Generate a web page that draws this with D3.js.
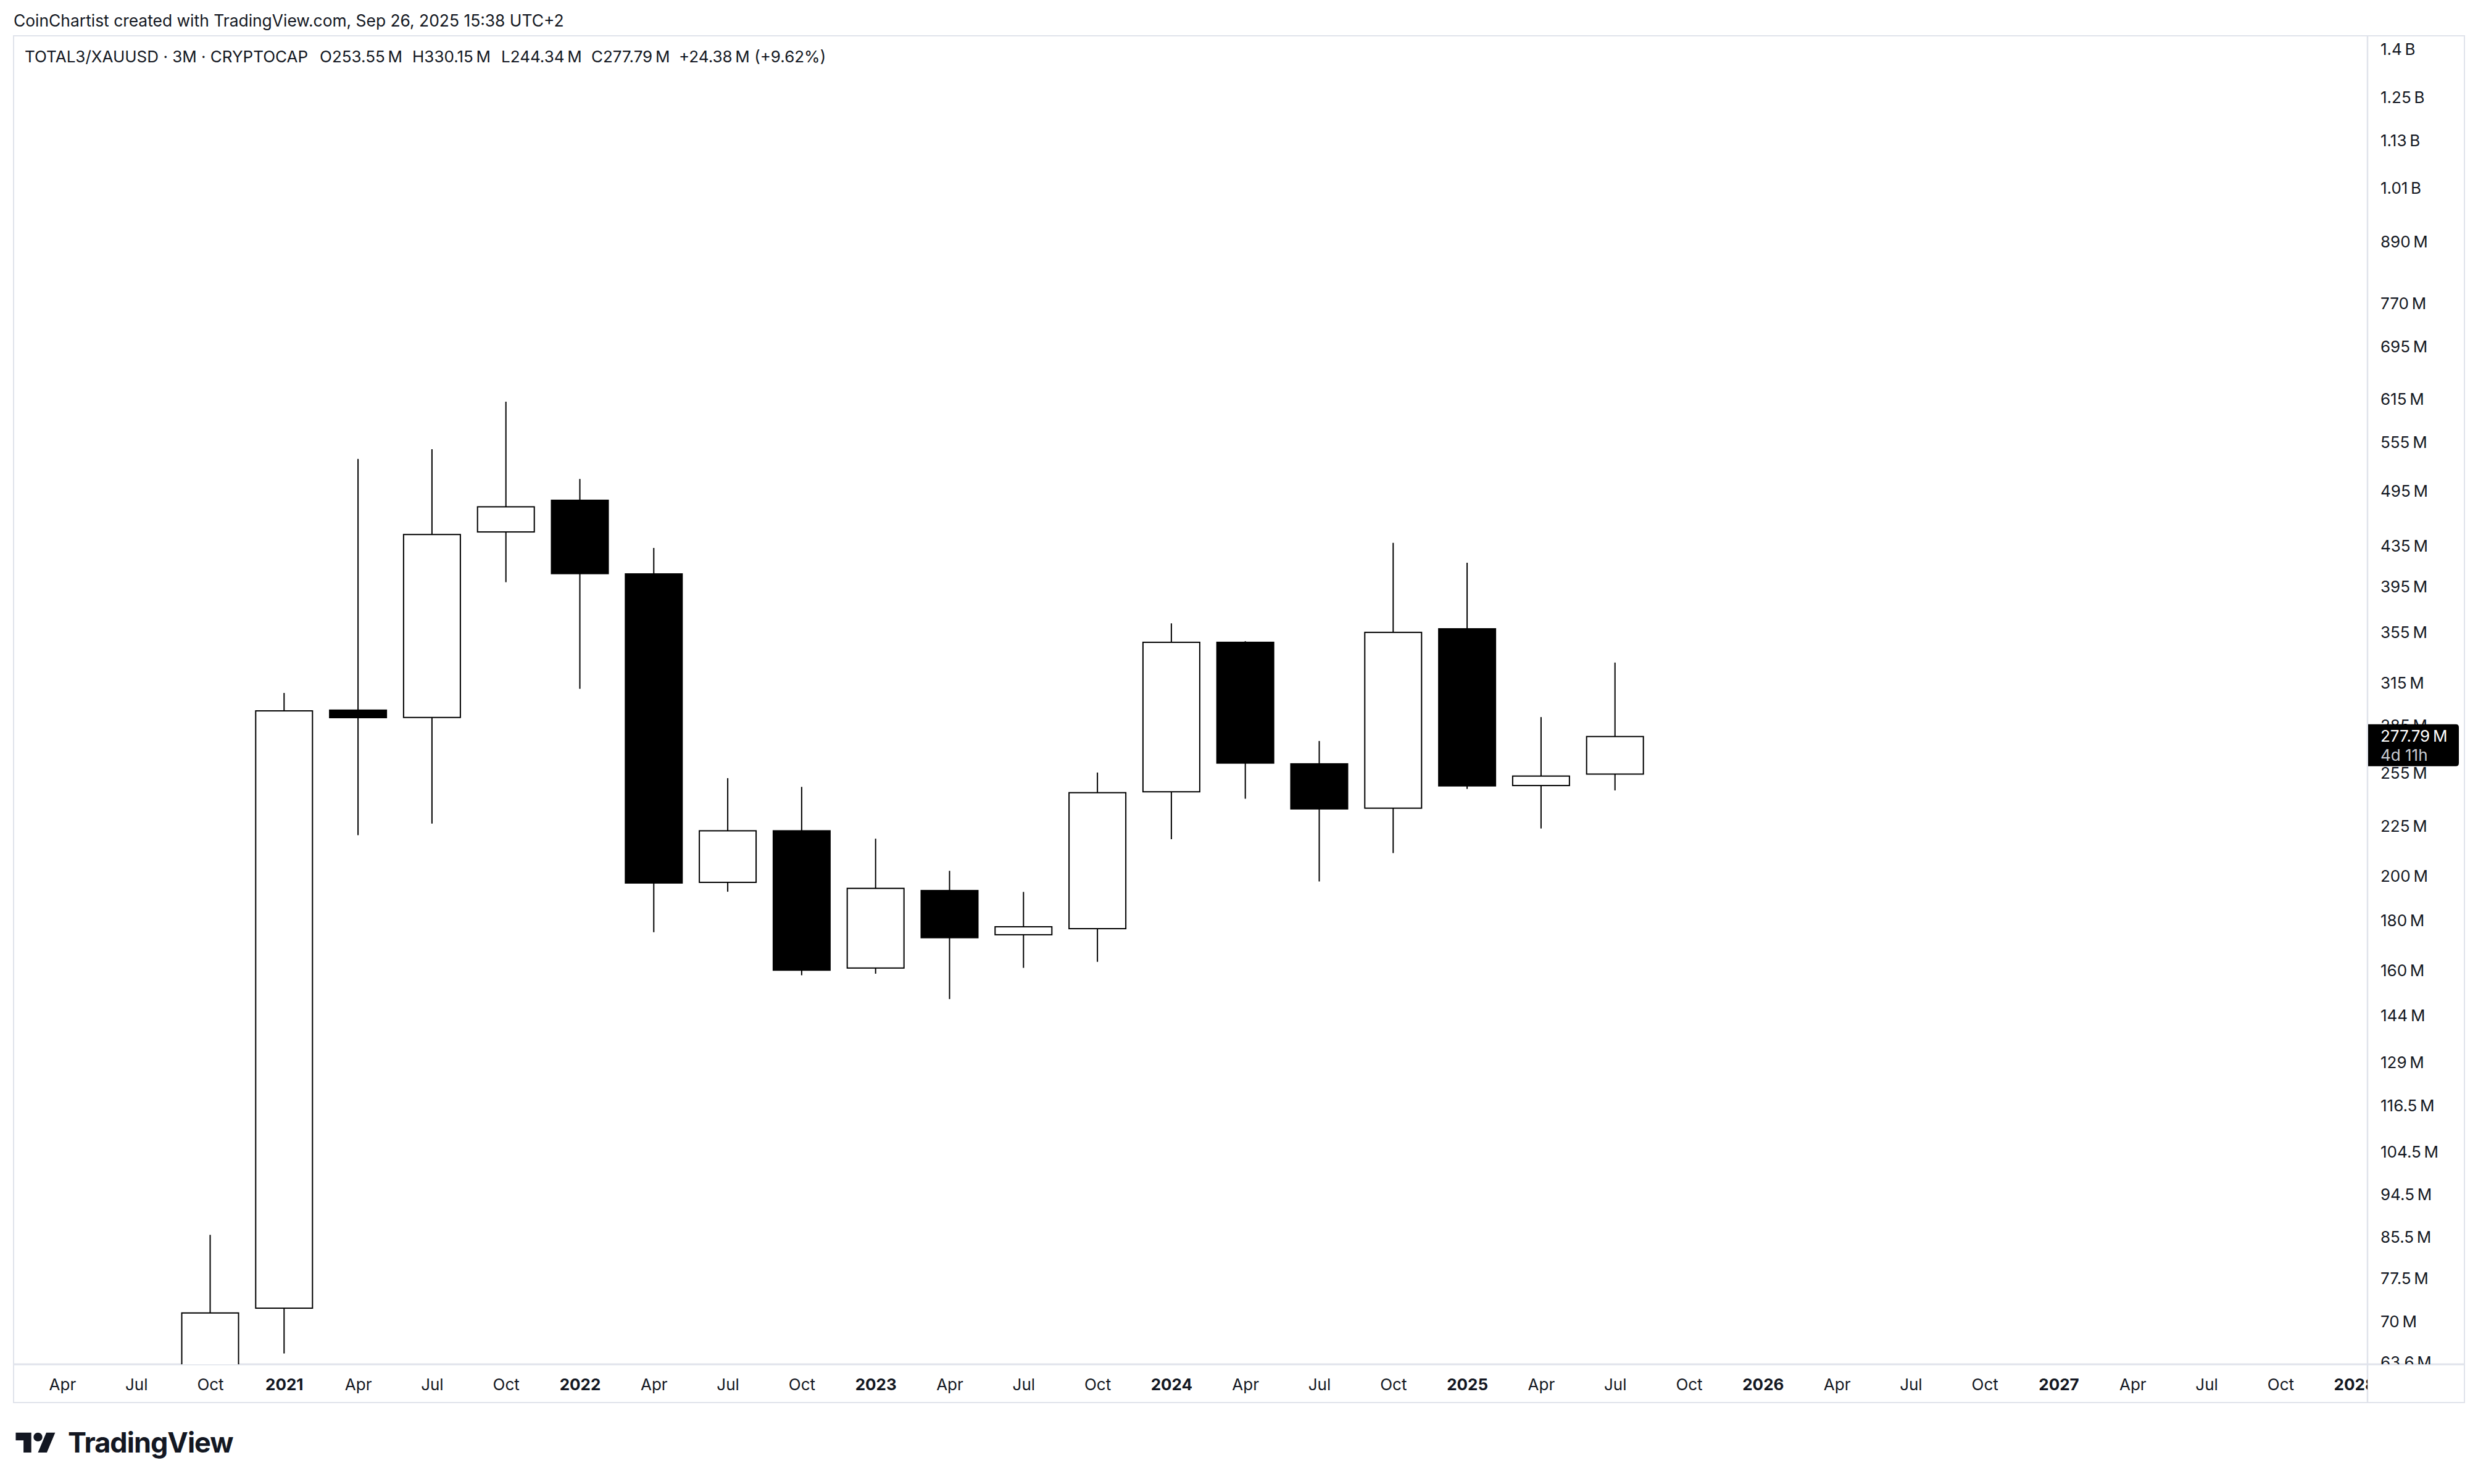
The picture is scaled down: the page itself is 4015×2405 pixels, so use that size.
<!DOCTYPE html>
<html><head><meta charset="utf-8">
<script src="https://cdn.jsdelivr.net/npm/d3@7"></script>
<style>
html,body{margin:0;padding:0;background:#fff;}
svg{display:block;}
text{font-family:Inter,"Noto Sans",sans-serif;}
</style></head><body>
<svg id="chart" width="4015" height="2405"></svg>
<script>
// ---- data (values in millions) ----
const quarters = ["2020 Q4","2021 Q1","2021 Q2","2021 Q3","2021 Q4","2022 Q1","2022 Q2","2022 Q3","2022 Q4","2023 Q1","2023 Q2","2023 Q3","2023 Q4","2024 Q1","2024 Q2","2024 Q3","2024 Q4","2025 Q1","2025 Q2","2025 Q3"];
const opens  = [53.0, 72.1, 295.6, 289.7, 448.4, 484.5, 407.4, 196.5, 222.5, 160.6, 193.3, 173.7, 176.2, 243.2, 346.8, 260.5, 234.0, 358.0, 246.8, 253.55];
const highs  = [85.8, 307.4, 533.2, 545.6, 610.2, 508.7, 432.4, 251.5, 246.4, 218.1, 202.2, 192.4, 254.8, 362.1, 347.2, 274.5, 437.6, 417.7, 290.4, 330.15];
const lows   = [47.0, 64.9, 219.9, 226.0, 399.0, 310.4, 175.0, 192.5, 158.1, 158.7, 149.5, 160.9, 163.2, 217.8, 239.6, 197.2, 210.8, 245.2, 223.4, 244.34];
const closes = [71.5, 295.1, 289.6, 447.0, 477.1, 406.5, 196.2, 222.5, 159.8, 194.3, 172.5, 177.5, 243.4, 346.8, 260.2, 233.6, 355.0, 246.6, 253.1, 277.79];
const priceTicks = [1400,1250,1130,1010,890,770,695,615,555,495,435,395,355,315,285,255,225,200,180,160,144,129,116.5,104.5,94.5,85.5,77.5,70,63.6];
const priceTickLabels = ["1.4\u202FB","1.25\u202FB","1.13\u202FB","1.01\u202FB","890\u202FM","770\u202FM","695\u202FM","615\u202FM","555\u202FM","495\u202FM","435\u202FM","395\u202FM","355\u202FM","315\u202FM","285\u202FM","255\u202FM","225\u202FM","200\u202FM","180\u202FM","160\u202FM","144\u202FM","129\u202FM","116.5\u202FM","104.5\u202FM","94.5\u202FM","85.5\u202FM","77.5\u202FM","70\u202FM","63.6\u202FM"];
const timeTickLabels = ["Apr","Jul","Oct","2021","Apr","Jul","Oct","2022","Apr","Jul","Oct","2023","Apr","Jul","Oct","2024","Apr","Jul","Oct","2025","Apr","Jul","Oct","2026","Apr","Jul","Oct","2027","Apr","Jul","Oct","2028"];
const timeTickStart = -2; // first tick label is 2 quarters before first candle
const headerText = "CoinChartist created with TradingView.com, Sep 26, 2025 15:38 UTC+2";
const legendParts = ["TOTAL3/XAUUSD \u00B7 3M \u00B7 CRYPTOCAP","O253.55\u202FM","H330.15\u202FM","L244.34\u202FM","C277.79\u202FM","+24.38\u202FM (+9.62%)"];
const lastPriceLabel = "277.79\u202FM";
const countdownLabel = "4d 11h";

// ---- layout ----
const W = 4015, H = 2405;
const paneL = 22, paneT = 58, paneR = 3993, paneB = 2273;
const plotR = 3836, plotB = 2211;
const txt = "#131722";
const svg = d3.select("#chart");

const x = d3.scaleLinear().domain([0, 19]).range([340.5, 340.5 + 19*119.8]);
const y = d3.scaleLog().domain([1400, 63.6]).range([79.4, 2207.4]);
const bodyW = 94;

const defs = svg.append("defs");
defs.append("clipPath").attr("id","plotClip").append("rect")
  .attr("x",paneL).attr("y",paneT).attr("width",plotR-paneL).attr("height",plotB-paneT);
defs.append("clipPath").attr("id","paxClip").append("rect")
  .attr("x",plotR).attr("y",paneT).attr("width",paneR-plotR).attr("height",plotB-paneT);
defs.append("clipPath").attr("id","taxClip").append("rect")
  .attr("x",paneL).attr("y",plotB).attr("width",plotR-paneL).attr("height",paneB-plotB);

svg.append("rect").attr("width",W).attr("height",H).attr("fill","#fff");

// header
svg.append("text").attr("x",22).attr("y",33).attr("dominant-baseline","central")
  .attr("font-size",26.4).attr("fill",txt).text(headerText);

// pane borders
const bc = "#e0e3eb";
svg.append("rect").attr("x",paneL).attr("y",paneT).attr("width",paneR-paneL).attr("height",paneB-paneT)
  .attr("fill","none").attr("stroke",bc).attr("stroke-width",2);
svg.append("line").attr("x1",plotR).attr("x2",plotR).attr("y1",paneT).attr("y2",paneB).attr("stroke",bc).attr("stroke-width",2.5);
svg.append("line").attr("x1",paneL).attr("x2",paneR).attr("y1",plotB).attr("y2",plotB).attr("stroke",bc).attr("stroke-width",3);

// legend
const legendX = [40, 518, 668, 812, 958, 1100];
svg.append("g").selectAll("text").data(legendParts).join("text")
  .attr("x",(d,i)=>legendX[i]).attr("y",91).attr("dominant-baseline","central")
  .attr("font-size",26).attr("fill",txt).text(d=>d);

// candles
const candles = quarters.map((q,i)=>({q, i, o:opens[i], h:highs[i], l:lows[i], c:closes[i]}));
const g = svg.append("g").attr("clip-path","url(#plotClip)");
g.selectAll("line.wick").data(candles).join("line").attr("class","wick")
  .attr("x1",d=>x(d.i)).attr("x2",d=>x(d.i))
  .attr("y1",d=>y(d.h)).attr("y2",d=>y(d.l))
  .attr("stroke","#000").attr("stroke-width",2);
g.selectAll("rect.body").data(candles).join("rect").attr("class","body")
  .each(function(d){
    const s = d3.select(this);
    const up = d.c >= d.o;
    const top = y(Math.max(d.o,d.c)), bot = y(Math.min(d.o,d.c));
    if (up) {
      s.attr("x",x(d.i)-bodyW/2+1).attr("width",bodyW-2)
       .attr("y",top+1).attr("height",Math.max(bot-top-2,1))
       .attr("fill","#fff").attr("stroke","#000").attr("stroke-width",2);
    } else {
      s.attr("x",x(d.i)-bodyW/2).attr("width",bodyW)
       .attr("y",top).attr("height",Math.max(bot-top,2))
       .attr("fill","#000");
    }
  });

// price axis (outer group clips in global coords, inner group is translated)
const pax = svg.append("g").attr("clip-path","url(#paxClip)")
  .append("g").attr("transform",`translate(${plotR},0)`)
  .call(d3.axisRight(y).tickValues(priceTicks).tickSize(0).tickPadding(21)
        .tickFormat((d,i)=>priceTickLabels[i]));
pax.attr("font-family",null).attr("font-size",null);
pax.select(".domain").remove();
pax.selectAll("text").attr("font-size",26).attr("fill",txt)
  .attr("dy",null).attr("dominant-baseline","central");

// time axis
const tickIdx = d3.range(timeTickStart, timeTickStart + timeTickLabels.length);
const tax = svg.append("g").attr("clip-path","url(#taxClip)")
  .append("g").attr("transform",`translate(0,${plotB})`)
  .call(d3.axisBottom(x).tickValues(tickIdx).tickSize(0).tickPadding(0)
        .tickFormat((d,i)=>timeTickLabels[i]));
tax.attr("font-family",null).attr("font-size",null);
tax.select(".domain").remove();
tax.selectAll("text").attr("font-size",26).attr("fill",txt)
  .attr("y",32).attr("dy",null).attr("dominant-baseline","central")
  .attr("font-weight",(d,i)=>/^\d{4}$/.test(timeTickLabels[i]) ? 700 : 400);

// last price label
const lp = closes[closes.length-1];
const ly = y(lp);
svg.append("path")
  .attr("d",()=>{const x0=plotR+1, x1=3984, t=ly-19, b=ly+49, r=5;
    return `M${x0},${t}H${x1-r}Q${x1},${t} ${x1},${t+r}V${b-r}Q${x1},${b} ${x1-r},${b}H${x0}Z`;})
  .attr("fill","#000");
svg.append("text").attr("x",3857).attr("y",ly).attr("dominant-baseline","central")
  .attr("font-size",26).attr("fill","#fff").text(lastPriceLabel);
svg.append("text").attr("x",3857).attr("y",ly+31).attr("dominant-baseline","central")
  .attr("font-size",26).attr("fill","#c9ccd3").text(countdownLabel);

// logo
const logo = svg.append("g").attr("transform","translate(25.5,2314.5) scale(1.8)");
logo.append("path").attr("d","M14 22H7V11H0V4h14v18zM28 22h-8l7.5-18h8L28 22z").attr("fill",txt);
logo.append("circle").attr("cx",20).attr("cy",8).attr("r",4).attr("fill",txt);
svg.append("text").attr("x",110).attr("y",2354).attr("font-size",45).attr("font-weight",700)
  .attr("letter-spacing",-1).attr("fill",txt).text("TradingView");
</script>
</body></html>
